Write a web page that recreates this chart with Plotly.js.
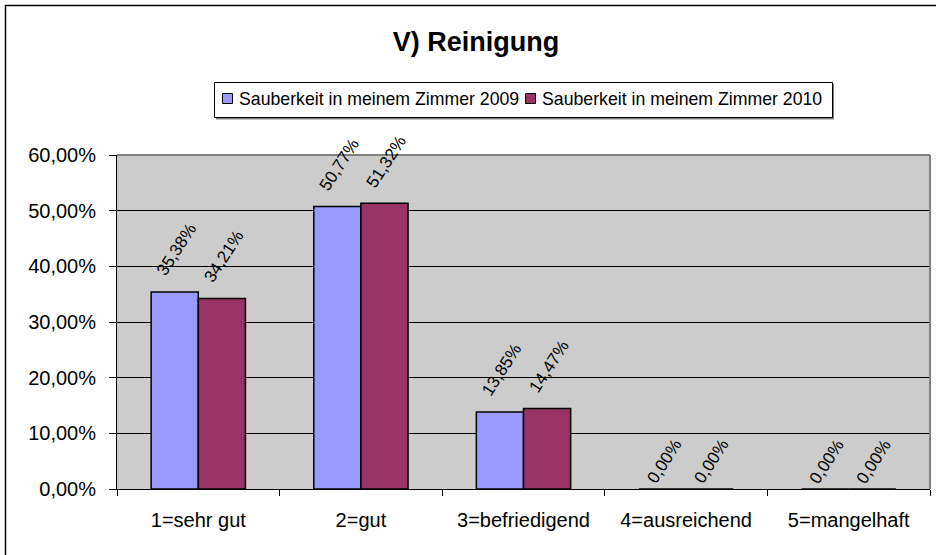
<!DOCTYPE html>
<html>
<head>
<meta charset="utf-8">
<script src="https://cdn.plot.ly/plotly-3.0.1.min.js"></script>
<style>html,body{margin:0;padding:0;background:#fff;}#chart{width:936px;height:555px;}</style>
</head>
<body>
<div id="chart"></div>
<script>
const categories = ["1=sehr gut", "2=gut", "3=befriedigend", "4=ausreichend", "5=mangelhaft"];
const seriesNames = ["Sauberkeit in meinem Zimmer 2009", "Sauberkeit in meinem Zimmer 2010"];
const seriesColors = ["#9999FF", "#993366"];
const values2009 = [35.38, 50.77, 13.85, 0.00, 0.00];
const values2010 = [34.21, 51.32, 14.47, 0.00, 0.00];
const labels2009 = ["35,38%", "50,77%", "13,85%", "0,00%", "0,00%"];
const labels2010 = ["34,21%", "51,32%", "14,47%", "0,00%", "0,00%"];
const yTickVals = [0, 10, 20, 30, 40, 50, 60];
const yTickText = ["0,00%", "10,00%", "20,00%", "30,00%", "40,00%", "50,00%", "60,00%"];
const titleText = "V) Reinigung";

const W = 936, H = 555;
const mL = 117, mR = 6, mT = 155, mB = 66;
const pw = W - mL - mR, ph = H - mT - mB;
const px2x = p => (p - mL) / pw;
const py2y = p => (H - mB - p) / ph;

const FONT = "Liberation Sans, Arial, sans-serif";
const BAR_HALF = 23.5;

function barTrace(name, vals, color) {
  return {
    type: "bar", name: name, x: categories, y: vals,
    marker: {color: color, line: {color: "#000", width: 1.5}},
    cliponaxis: false, hoverinfo: "none", showlegend: false
  };
}

const data = [
  barTrace(seriesNames[0], values2009, seriesColors[0]),
  barTrace(seriesNames[1], values2010, seriesColors[1])
];

// data labels
const annotations = [];
[[values2009, labels2009, -BAR_HALF], [values2010, labels2010, BAR_HALF]].forEach(([vals, labs, dx]) => {
  vals.forEach((v, i) => {
    annotations.push({
      xref: "x", yref: "y", x: categories[i], y: v, xshift: dx + 2, yshift: v > 0 ? 10 : -1,
      text: labs[i], showarrow: false, textangle: -57,
      xanchor: "center", yanchor: "bottom",
      font: {family: FONT, size: 17, color: "#000"}
    });
  });
});

// legend (custom, Excel style)
const legTextX = [238, 541];
const legSqX = [222, 525];
const shapes = [
  {type: "line", xref: "paper", yref: "paper", x0: 0, x1: 1, y0: 1, y1: 1, line: {color: "#808080", width: 2}},
  {type: "line", xref: "paper", yref: "paper", x0: 1, x1: 1, y0: 0, y1: 1, line: {color: "#808080", width: 2}},
  {type: "rect", xref: "paper", yref: "paper", x0: px2x(5.5), x1: px2x(960), y0: py2y(5.5), y1: py2y(600),
   line: {color: "#000", width: 1.5}, fillcolor: "rgba(0,0,0,0)", layer: "below"},
  {type: "rect", xref: "paper", yref: "paper", x0: px2x(216), x1: px2x(834), y0: py2y(84), y1: py2y(119.5),
   line: {width: 0}, fillcolor: "#808080", layer: "below"},
  {type: "rect", xref: "paper", yref: "paper", x0: px2x(214.5), x1: px2x(832.5), y0: py2y(82.5), y1: py2y(117.5),
   line: {color: "#000", width: 1}, fillcolor: "#FFFFFF", layer: "below"}
];
seriesNames.forEach((n, k) => {
  shapes.push({type: "rect", xref: "paper", yref: "paper",
    x0: px2x(legSqX[k] + 0.5), x1: px2x(legSqX[k] + 10.5), y0: py2y(93.5), y1: py2y(103.5),
    line: {color: "#000", width: 1}, fillcolor: seriesColors[k], layer: "above"});
  annotations.push({xref: "paper", yref: "paper", x: px2x(legTextX[k] - 1), y: py2y(99),
    text: n, showarrow: false, xanchor: "left", yanchor: "middle",
    font: {family: FONT, size: 17.7, color: "#000"}});
});

const layout = {
  width: W, height: H,
  margin: {l: mL, r: mR, t: mT, b: mB, pad: 0},
  paper_bgcolor: "#FFFFFF",
  plot_bgcolor: "#CCCCCC",
  font: {family: FONT, size: 20, color: "#000"},
  title: {text: "<b>" + titleText + "</b>", font: {family: FONT, size: 27, color: "#000"},
          x: 476 / W, xanchor: "center", y: 1 - 42 / H, yanchor: "middle", xref: "container", yref: "container"},
  barmode: "group", bargap: 0.42, bargroupgap: 0,
  showlegend: false,
  xaxis: {type: "category", showline: true, linecolor: "#000", linewidth: 1,
          ticks: "outside", tickson: "boundaries", ticklen: 6, tickcolor: "#000", tickwidth: 1,
          showgrid: false, zeroline: false, fixedrange: true, ticklabelstandoff: 13,
          tickfont: {family: FONT, size: 20, color: "#000"}},
  yaxis: {range: [0, 60], tickvals: yTickVals, ticktext: yTickText,
          showline: true, linecolor: "#000", linewidth: 1,
          ticks: "outside", ticklen: 7, tickcolor: "#000", tickwidth: 1,
          showgrid: true, gridcolor: "#000", gridwidth: 1, zeroline: false, fixedrange: true,
          ticklabelstandoff: 9,
          tickfont: {family: FONT, size: 20, color: "#000"}},
  shapes: shapes,
  annotations: annotations
};

Plotly.newPlot("chart", data, layout, {displayModeBar: false, staticPlot: true});
</script>
</body>
</html>
